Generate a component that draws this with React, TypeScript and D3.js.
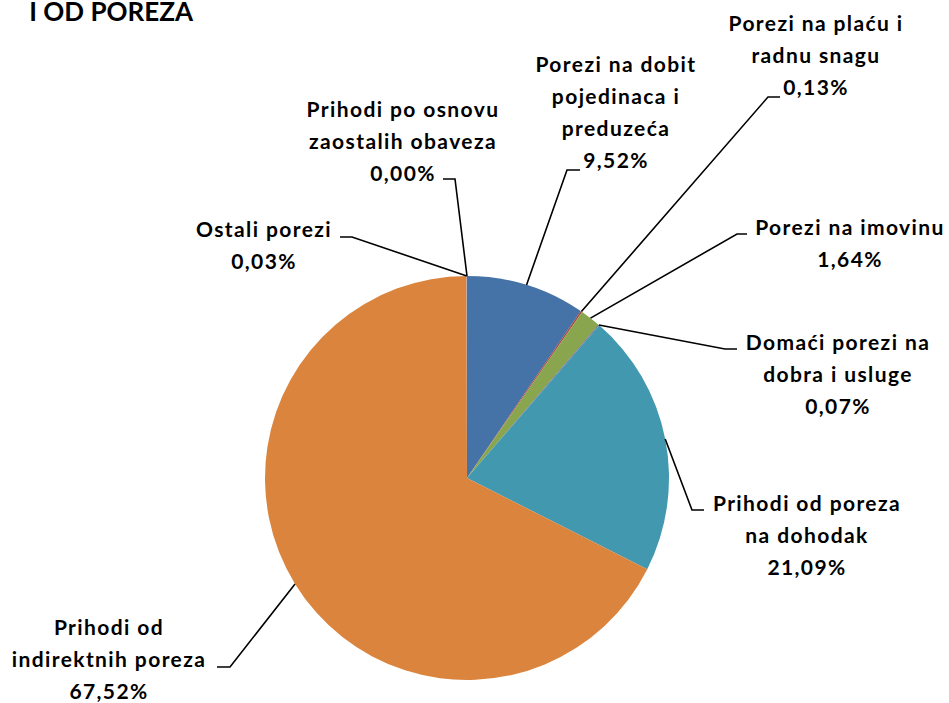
import React from "react";
import * as d3 from "d3";

const categories: string[][] = [
  ["Porezi na dobit", "pojedinaca  i", "preduzeća"],
  ["Porezi na plaću  i", "radnu snagu"],
  ["Porezi na imovinu"],
  ["Domaći porezi na", "dobra i usluge"],
  ["Prihodi od poreza", "na dohodak"],
  ["Prihodi od", "indirektnih poreza"],
  ["Ostali porezi"],
  ["Prihodi po osnovu", "zaostalih obaveza"],
];
const values: number[] = [9.52, 0.13, 1.64, 0.07, 21.09, 67.52, 0.03, 0.0];
const valueLabels: string[] = ["9,52%", "0,13%", "1,64%", "0,07%", "21,09%", "67,52%", "0,03%", "0,00%"];
const colors: string[] = ["#4572A7", "#AA4643", "#89A54E", "#71588F", "#4198AF", "#DB843D", "#93A9CF", "#D19392"];
const title = "I OD POREZA";

// layout: label centre x, first baseline y, leader elbow (x,y), horizontal end x
const layout = [
  { cx: 616, y: 72, ex: 567, ey: 170, hx: 580 },
  { cx: 816, y: 31, ex: 768, ey: 97, hx: 780 },
  { cx: 850, y: 235, ex: 737, ey: 234, hx: 747 },
  { cx: 838, y: 350, ex: 725, ey: 349, hx: 737 },
  { cx: 807, y: 511, ex: 692, ey: 510, hx: 704 },
  { cx: 109, y: 635, ex: 230, ey: 667, hx: 217 },
  { cx: 264, y: 237, ex: 352, ey: 237, hx: 340 },
  { cx: 403, y: 117, ex: 455, ey: 179, hx: 443 },
];

const W = 949;
const H = 703;
const CX = 467;
const CY = 478;
const R = 202;
const LINE_H = 32;
const FONT = "Lato, 'Open Sans', sans-serif";

export default function App() {
  const pie = d3.pie<number>().sort(null).value((d) => d);
  const arcs = pie(values);
  const arc = d3.arc<d3.PieArcDatum<number>>().innerRadius(0).outerRadius(R);
  const edge = d3.arc<d3.PieArcDatum<number>>().innerRadius(R).outerRadius(R);

  return (
    <svg width={W} height={H} style={{ position: "absolute", left: 0, top: 0, background: "#fff" }}>
      <text x={193} y={21} textAnchor="end" fontFamily={FONT} fontWeight={700} fontSize={26} fill="#000">
        {title}
      </text>
      <g transform={`translate(${CX},${CY})`}>
        {arcs.map((a, i) => (
          <path key={i} d={arc(a) || ""} fill={colors[i]} />
        ))}
      </g>
      {arcs.map((a, i) => {
        const [px, py] = edge.centroid(a);
        const L = layout[i];
        return (
          <polyline
            key={"l" + i}
            points={`${CX + px},${CY + py} ${L.ex},${L.ey} ${L.hx},${L.ey}`}
            fill="none"
            stroke="#000"
            strokeWidth={1.6}
          />
        );
      })}
      {categories.map((lines, i) => {
        const L = layout[i];
        const all = [...lines, valueLabels[i]];
        return (
          <text
            key={"t" + i}
            x={L.cx}
            y={L.y}
            textAnchor="middle"
            fontFamily={FONT}
            fontWeight={700}
            fontSize={21}
            letterSpacing={1.4}
            fill="#000"
          >
            {all.map((s, j) => (
              <tspan key={j} x={L.cx} y={L.y + j * LINE_H}>
                {s}
              </tspan>
            ))}
          </text>
        );
      })}
    </svg>
  );
}
